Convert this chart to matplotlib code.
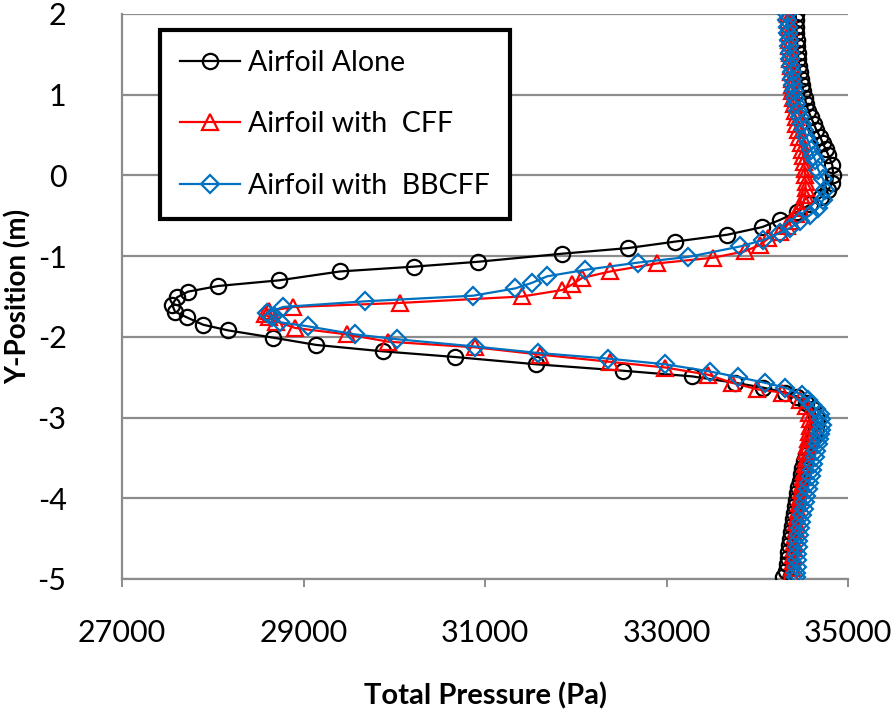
import matplotlib
matplotlib.use('Agg')
import matplotlib.pyplot as plt

plt.rcParams['font.family'] = ['Lato', 'DejaVu Sans']

# Total pressure profiles (Pa) against vertical position (m)
y_alone = [2.00, 1.92, 1.84, 1.76, 1.68, 1.60, 1.52, 1.44, 1.36, 1.28, 1.20, 1.12,
           1.04, 0.96, 0.88, 0.80, 0.72, 0.64, 0.56, 0.48, 0.40, 0.33, 0.255, 0.13,
           0.007, -0.09, -0.18, -0.27, -0.36, -0.45, -0.55, -0.64, -0.735, -0.82,
           -0.90, -0.97, -1.07, -1.13, -1.19, -1.30, -1.37, -1.44, -1.51, -1.60,
           -1.69, -1.76, -1.85, -1.92, -2.01, -2.10, -2.18, -2.25, -2.34, -2.42,
           -2.49, -2.57, -2.63, -2.69, -2.74, -2.82, -2.90, -2.98, -3.06, -3.14,
           -3.22, -3.30, -3.38, -3.46, -3.54, -3.62, -3.70, -3.78, -3.86, -3.94,
           -4.02, -4.10, -4.18, -4.26, -4.34, -4.42, -4.50, -4.58, -4.66, -4.74,
           -4.82, -4.90, -4.97]
p_alone = [34420, 34425, 34430, 34430, 34435, 34440, 34445, 34450, 34460, 34470, 34480, 34490,
           34505, 34520, 34540, 34560, 34590, 34620, 34650, 34690, 34720, 34750, 34780, 34824,
           34835, 34824, 34780, 34700, 34580, 34438, 34251, 34053, 33667, 33094,
           32576, 31849, 30923, 30218, 29402, 28730, 28058, 27727, 27606, 27551,
           27584, 27716, 27893, 28168, 28664, 29138, 29876, 30670, 31562, 32521,
           33281, 33755, 34064, 34306, 34438, 34540, 34610, 34650, 34660, 34650,
           34620, 34590, 34560, 34530, 34510, 34495, 34480, 34465, 34450, 34440,
           34430, 34415, 34400, 34390, 34380, 34370, 34360, 34350, 34340, 34335,
           34330, 34310, 34285]

y_cff = [2.00, 1.92, 1.84, 1.76, 1.68, 1.60, 1.52, 1.44, 1.36, 1.28, 1.20, 1.12,
         1.04, 0.96, 0.88, 0.80, 0.72, 0.64, 0.56, 0.48, 0.40, 0.32, 0.24, 0.16,
         0.08, 0.00, -0.08, -0.16, -0.24, -0.32, -0.40, -0.48, -0.56, -0.63,
         -0.70, -0.78, -0.86, -0.94, -1.02, -1.09, -1.19, -1.27, -1.35, -1.42,
         -1.50, -1.58, -1.63, -1.68, -1.72, -1.76, -1.81, -1.89, -1.97, -2.06,
         -2.13, -2.22, -2.31, -2.38, -2.47, -2.57, -2.65, -2.69, -2.78, -2.86,
         -2.94, -3.02, -3.10, -3.18, -3.26, -3.34, -3.42, -3.50, -3.58, -3.66,
         -3.74, -3.82, -3.90, -3.98, -4.06, -4.14, -4.22, -4.30, -4.38, -4.46,
         -4.54, -4.62, -4.70, -4.78, -4.86, -4.94]
p_cff = [34340, 34340, 34345, 34345, 34350, 34350, 34355, 34360, 34365, 34370, 34375, 34380,
         34385, 34390, 34400, 34410, 34420, 34430, 34445, 34460, 34475, 34490, 34505, 34515,
         34520, 34525, 34530, 34530, 34525, 34510, 34470, 34430, 34370, 34320,
         34250, 34120, 34030, 33860, 33510, 32896, 32378, 32069, 31959, 31849,
         31408, 30064, 28885, 28620, 28580, 28620, 28700, 28906, 29480, 29931,
         30890, 31606, 32378, 32984, 33458, 33722, 33998, 34273, 34472, 34540,
         34570, 34580, 34580, 34570, 34560, 34550, 34540, 34530, 34520, 34510,
         34500, 34490, 34480, 34470, 34460, 34450, 34440, 34430, 34420, 34410,
         34405, 34400, 34395, 34390, 34385, 34370]

y_bbcff = [2.00, 1.92, 1.84, 1.76, 1.68, 1.60, 1.52, 1.44, 1.36, 1.28, 1.20, 1.12,
           1.04, 0.96, 0.88, 0.80, 0.72, 0.64, 0.56, 0.48, 0.40, 0.32, 0.24, 0.19,
           0.07, -0.05, -0.18, -0.30, -0.40, -0.49, -0.57, -0.65, -0.71, -0.80,
           -0.88, -1.01, -1.08, -1.17, -1.25, -1.33, -1.40, -1.49, -1.56, -1.63,
           -1.70, -1.75, -1.82, -1.87, -1.97, -2.03, -2.12, -2.20, -2.27, -2.34,
           -2.43, -2.50, -2.57, -2.63, -2.72, -2.78, -2.84, -2.90, -2.96, -3.02,
           -3.09, -3.15, -3.21, -3.27, -3.33, -3.41, -3.49, -3.57, -3.65, -3.73,
           -3.81, -3.89, -3.97, -4.05, -4.13, -4.21, -4.29, -4.37, -4.45, -4.53,
           -4.61, -4.69, -4.77, -4.85, -4.93, -4.98]
p_bbcff = [34330, 34330, 34335, 34340, 34345, 34350, 34355, 34360, 34365, 34375, 34385, 34395,
           34405, 34415, 34430, 34450, 34470, 34490, 34515, 34540, 34565, 34590, 34615, 34637,
           34670, 34725, 34747, 34725, 34670, 34582, 34472, 34361, 34251, 34064,
           33810, 33237, 32686, 32102, 31684, 31518, 31331, 30868, 29678, 28774,
           28600, 28653, 28741, 29050, 29568, 30031, 30890, 31584, 32356, 32984,
           33480, 33790, 34086, 34306, 34494, 34560, 34600, 34650, 34690, 34705,
           34710, 34705, 34690, 34680, 34670, 34650, 34630, 34615, 34600, 34585,
           34570, 34555, 34540, 34525, 34510, 34495, 34480, 34465, 34455, 34450,
           34445, 34440, 34440, 34435, 34430, 34420]

x_ticks = [27000, 29000, 31000, 33000, 35000]
y_ticks = [-5, -4, -3, -2, -1, 0, 1, 2]

fig = plt.figure(figsize=(8.91, 7.17), dpi=100)
ax = fig.add_axes([0.137, 0.1925, 0.815, 0.788])

ax.plot(p_alone, y_alone, color='black', lw=1.6, marker='o', ms=11,
        mfc='none', mec='black', mew=1.6, label='Airfoil Alone', zorder=3)
ax.plot(p_cff, y_cff, color='red', lw=1.6, marker='^', ms=11,
        mfc='none', mec='red', mew=1.6, label='Airfoil with  CFF', zorder=4)
ax.plot(p_bbcff, y_bbcff, color='#0070C0', lw=1.6, marker='D', ms=9,
        mfc='none', mec='#0070C0', mew=1.6, label='Airfoil with  BBCFF', zorder=5)

ax.set_xlim(27000, 35000)
ax.set_ylim(-5, 2)
ax.set_xticks(x_ticks)
ax.set_yticks(y_ticks)
ax.set_yticklabels([str(t) for t in y_ticks])

ax.grid(axis='y', color='#8c8c8c', lw=1.6)
ax.set_axisbelow(True)
for side in ['top', 'right']:
    ax.spines[side].set_visible(False)
for side in ['left', 'bottom']:
    ax.spines[side].set_color('#8c8c8c')
    ax.spines[side].set_linewidth(1.6)
ax.tick_params(axis='x', direction='out', length=6, width=1.4, color='#8c8c8c',
               labelsize=22, pad=23)
ax.tick_params(axis='y', direction='out', length=0, labelsize=22, pad=40)

ax.set_xlabel('Total Pressure (Pa)', fontsize=21, fontweight='bold')
ax.set_ylabel('Y-Position (m)', fontsize=20, fontweight='bold')
ax.xaxis.set_label_coords(0.5, -0.183)
ax.yaxis.set_label_coords(-0.124, 0.5)

leg = ax.legend(loc='upper left', bbox_to_anchor=(0.052, 0.972), borderaxespad=0,
                fontsize=20.5, frameon=True, fancybox=False, framealpha=1,
                handlelength=2.1, handletextpad=0.3, labelspacing=1.25,
                borderpad=0.7)
leg.get_frame().set_edgecolor('black')
leg.get_frame().set_linewidth(3)

fig.savefig('out.png', dpi=100)
